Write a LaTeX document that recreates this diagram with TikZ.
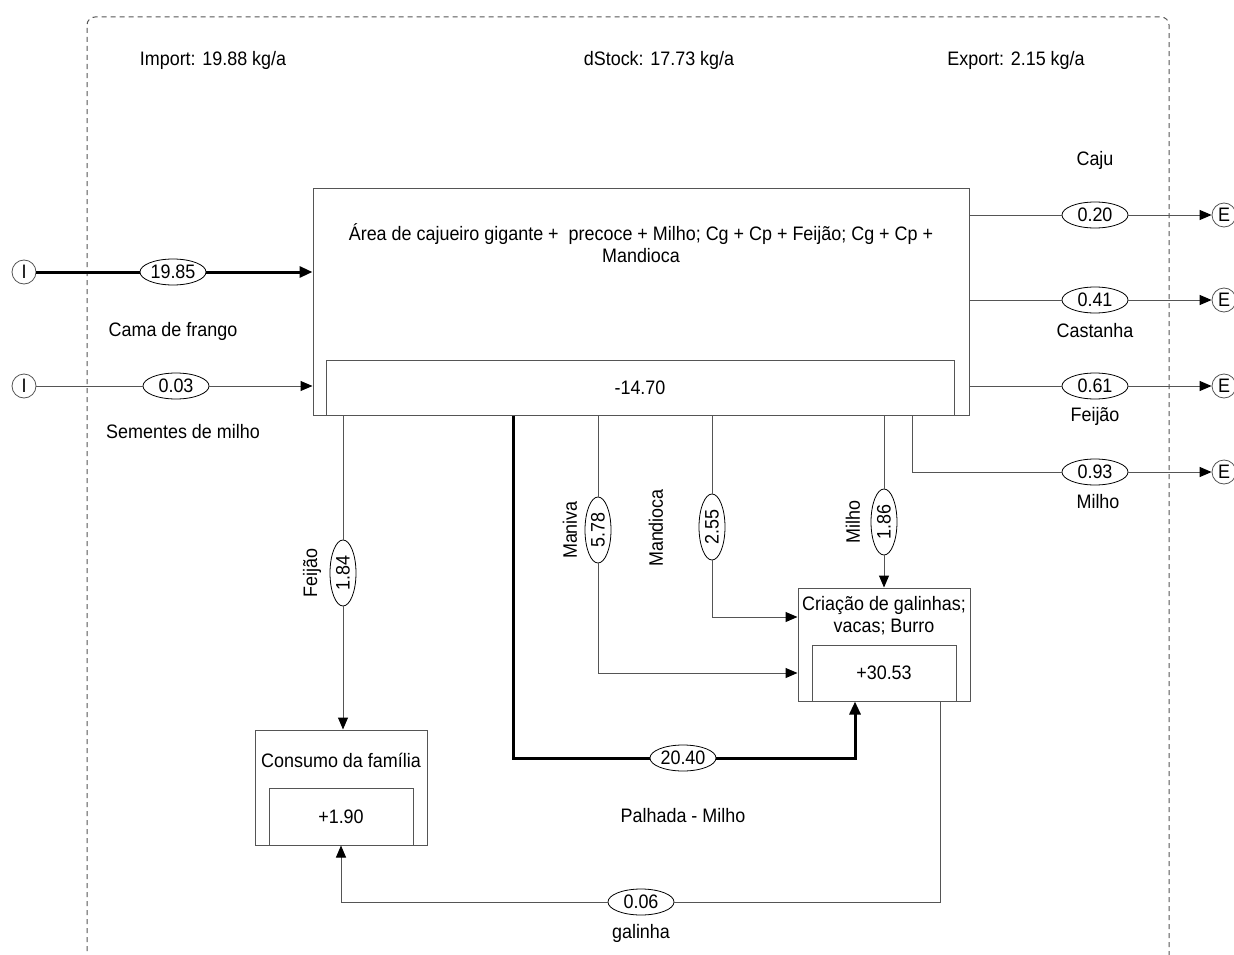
\documentclass[tikz,border=0pt]{standalone}
\usepackage{fontspec}
\setmainfont[FakeStretch=0.92]{Liberation Sans}
\usetikzlibrary{arrows.meta,shapes.geometric,calc}
\definecolor{lc}{RGB}{85,85,85}
\begin{document}
\begin{tikzpicture}[x=1pt,y=-1pt,
 every node/.style={font=\fontsize{19.5}{22}\selectfont, inner sep=0pt},
 box/.style={draw=lc, line width=1pt, rectangle},
 val/.style={draw=black, ellipse, minimum width=66, minimum height=26, line width=0.8pt, fill=white},
 vval/.style={val, rotate=90},
 io/.style={draw=lc, circle, minimum size=24, line width=0.8pt, fill=white},
 flow/.style={draw=lc, line width=1pt},
 arr/.style={flow, -{Triangle[length=12,width=10,color=black]}},
 thickflow/.style={draw=black, line width=3pt},
 tarr/.style={thickflow, -{Triangle[length=13,width=11]}},
]
\useasboundingbox (0,0) rectangle (1234,955);
% system border
\draw[lc, line width=1pt, dash pattern=on 5pt off 4pt, rounded corners=8] (87,960) -- (87,17) -- (1169,17) -- (1169,960);

% header
\node (imp) at (213,60) {Import: 19.88 kg/a};
\node (dst) at (659,60) {dStock: 17.73 kg/a};
\node (exp) at (1016,60) {Export: 2.15 kg/a};

% main process
\node[box, minimum width=656, minimum height=227] (main) at (641,301.5) {};
\node[align=center] (mainlbl) at (641,243) {Área de cajueiro gigante +\ \ precoce + Milho; Cg + Cp + Feijão; Cg + Cp +\\Mandioca};
\node[box, minimum width=628, minimum height=55] (mainst) at (640,387.5) {-14.70};

% consumo
\node[box, minimum width=172, minimum height=115] (cons) at (341,787.5) {};
\node (conslbl) at (341,760) {Consumo da família};
\node[box, minimum width=144, minimum height=57] (consst) at (341,816.5) {+1.90};

% criacao
\node[box, minimum width=172, minimum height=113] (cria) at (884,644.5) {};
\node[align=center] (crialbl) at (884,616) {Criação de galinhas;\\vacas; Burro};
\node[box, minimum width=144, minimum height=56] (criast) at (884,673) {+30.53};

% import / export terminals
\node[io] (iA) at (24,272) {I};
\node[io] (iB) at (24,386) {I};
\node[io] (oA) at (1224,215) {E};
\node[io] (oB) at (1224,300) {E};
\node[io] (oC) at (1224,386) {E};
\node[io] (oD) at (1224,472) {E};

% value ellipses
\node[val] (e1985) at (173,272) {19.85};
\node[val] (e003) at (176,386) {0.03};
\node[val] (e020) at (1095,215) {0.20};
\node[val] (e041) at (1095,300) {0.41};
\node[val] (e061) at (1095,386) {0.61};
\node[val] (e093) at (1095,472) {0.93};
\node[vval] (e184) at (343,573) {1.84};
\node[vval] (e578) at (598,530) {5.78};
\node[vval] (e255) at (712,527) {2.55};
\node[vval] (e186) at (884,522) {1.86};
\node[val] (e2040) at (683,758) {20.40};
\node[val] (e006) at (641,902) {0.06};

% flow labels
\node (lcama) at (173,331) {Cama de frango};
\node (lsem) at (183,432) {Sementes de milho};
\node (lcaju) at (1095,160) {Caju};
\node (lcast) at (1095,331) {Castanha};
\node (lfei) at (1095,416) {Feijão};
\node (lmil) at (1098,502) {Milho};
\node[rotate=90] (lfei2) at (312,573) {Feijão};
\node[rotate=90] (lman) at (570,530) {Maniva};
\node[rotate=90] (lmand) at (656,528) {Mandioca};
\node[rotate=90] (lmil2) at (853,522) {Milho};
\node (lpal) at (683,816) {Palhada - Milho};
\node (lgal) at (641,933) {galinha};

% bend points
\coordinate (mo) at (912,472);
\coordinate (pa) at (513,758);
\coordinate (pb) at (855,758);
\coordinate (ma) at (598,673);
\coordinate (md) at (712,617);
\coordinate (ga) at (940,902);
\coordinate (gb) at (341,902);

% imports
\draw[thickflow] (iA) -- (e1985);
\draw[tarr] (e1985) -- (iA -| main.west);
\draw[flow] (iB) -- (e003);
\draw[arr] (e003) -- (iB -| main.west);

% exports
\draw[flow] (main.east |- e020) -- (e020);
\draw[arr] (e020) -- (oA);
\draw[flow] (main.east |- e041) -- (e041);
\draw[arr] (e041) -- (oB);
\draw[flow] (main.east |- e061) -- (e061);
\draw[arr] (e061) -- (oC);
\draw[flow] (main.south -| mo) -- (mo) -- (e093);
\draw[arr] (e093) -- (oD);

% internal flows
\draw[flow] (main.south -| e184) -- (e184);
\draw[arr] (e184) -- (cons.north -| e184);
\draw[thickflow] (main.south -| pa) -- (pa) -- (e2040);
\draw[tarr] (e2040) -- (pb) -- (cria.south -| pb);
\draw[flow] (main.south -| e578) -- (e578);
\draw[arr] (e578) -- (ma) -- (cria.west |- ma);
\draw[flow] (main.south -| e255) -- (e255);
\draw[arr] (e255) -- (md) -- (cria.west |- md);
\draw[flow] (main.south -| e186) -- (e186);
\draw[arr] (e186) -- (cria.north -| e186);
\draw[flow] (cria.south -| ga) -- (ga) -- (e006);
\draw[arr] (e006) -- (gb) -- (cons.south);
\end{tikzpicture}
\end{document}
